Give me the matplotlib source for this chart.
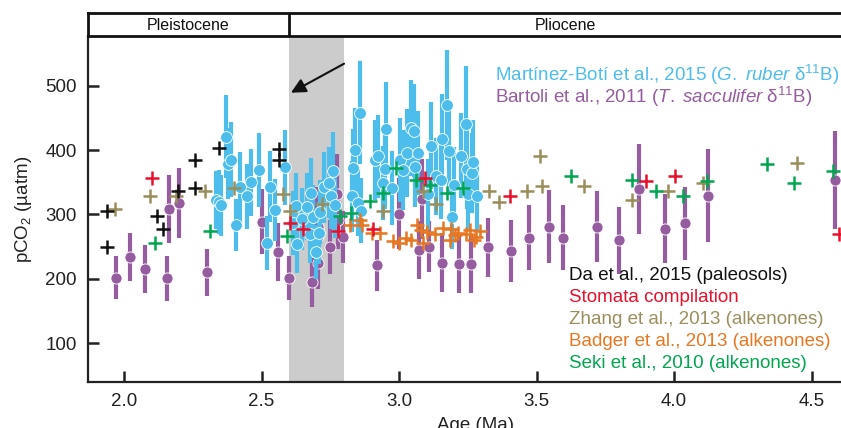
import numpy as np
import matplotlib
matplotlib.use('Agg')
import matplotlib.pyplot as plt

plt.rcParams['font.family'] = ['Liberation Sans', 'DejaVu Sans']
plt.rcParams['mathtext.fontset'] = 'custom'
plt.rcParams['mathtext.rm'] = 'Liberation Sans'
plt.rcParams['mathtext.it'] = 'Liberation Sans:italic'

# ── data ──────────────────────────────────────────────────────────────────────
# Martinez-Boti et al., 2015 (G. ruber d11B)
mb_age = [2.336, 2.345, 2.352, 2.370, 2.378, 2.388, 2.408, 2.423, 2.448, 2.463,
          2.490, 2.521, 2.532, 2.550, 2.585, 2.616, 2.625, 2.630, 2.648, 2.664,
          2.676, 2.679, 2.686, 2.698, 2.710, 2.713, 2.728, 2.747, 2.752, 2.761,
          2.767, 2.830, 2.831, 2.840, 2.850, 2.858, 2.860, 2.913, 2.925, 2.943,
          2.949, 2.952, 2.976, 3.004, 3.016, 3.028, 3.044, 3.056, 3.058, 3.068,
          3.107, 3.116, 3.133, 3.153, 3.155, 3.173, 3.182, 3.192, 3.201, 3.225,
          3.242, 3.246, 3.252, 3.264, 3.270, 3.282]
mb_co2 = [323, 319, 314, 421, 379, 385, 284, 342, 328, 350,
          369, 256, 343, 307, 373, 287, 313, 254, 293, 312,
          270, 333, 296, 242, 271, 304, 342, 349, 329, 368,
          314, 328, 372, 400, 318, 458, 306, 384, 390, 349,
          371, 433, 341, 384, 369, 395, 434, 430, 373, 395,
          331, 407, 359, 353, 417, 470, 398, 296, 346, 391,
          441, 371, 332, 364, 382, 328]
mb_err = [45, 50, 48, 65, 55, 58, 40, 55, 50, 52,
          58, 42, 55, 48, 58, 50, 52, 45, 48, 52,
          45, 55, 50, 42, 48, 50, 55, 55, 52, 60,
          50, 55, 60, 65, 52, 80, 50, 62, 65, 58,
          62, 72, 58, 65, 62, 68, 75, 72, 62, 65,
          55, 68, 60, 60, 70, 85, 68, 50, 58, 66,
          90, 62, 56, 62, 64, 55]

# Bartoli et al., 2011 (T. sacculifer d11B)
ba_age = [1.972, 2.023, 2.075, 2.157, 2.164, 2.199, 2.302, 2.503, 2.559, 2.600,
          2.685, 2.703, 2.705, 2.706, 2.707, 2.749, 2.776, 2.778, 2.795, 2.919,
          3.001, 3.073, 3.082, 3.109, 3.158, 3.219, 3.262, 3.325, 3.407, 3.474,
          3.547, 3.595, 3.719, 3.798, 3.874, 3.967, 4.040, 4.122, 4.585]
ba_co2 = [202, 234, 215, 201, 309, 318, 210, 289, 242, 201,
          195, 288, 280, 266, 224, 250, 332, 291, 265, 221,
          301, 245, 324, 250, 225, 223, 223, 249, 243, 264,
          281, 264, 281, 260, 339, 278, 286, 329, 354]
ba_err = [33, 38, 37, 35, 53, 54, 36, 50, 45, 34,
          38, 55, 50, 45, 40, 42, 62, 45, 40, 40,
          55, 45, 62, 40, 46, 45, 45, 46, 48, 50,
          57, 50, 55, 52, 70, 54, 57, 72, 76]

# Da et al., 2015 (paleosols)
da_age = [1.938, 1.938, 2.121, 2.142, 2.196, 2.257, 2.257, 2.345, 2.565, 2.565]
da_co2 = [306, 250, 297, 278, 336, 384, 341, 403, 401, 385]

# Stomata compilation
st_age = [2.103, 2.604, 2.652, 2.777, 2.907, 3.095, 3.404, 3.898, 4.004, 4.598]
st_co2 = [356, 287, 278, 275, 278, 357, 328, 352, 360, 270]

# Zhang et al., 2013 (alkenones)
zh_age = [1.968, 2.093, 2.188, 2.296, 2.399, 2.579, 2.604, 2.719, 2.943, 3.088,
          3.135, 3.327, 3.364, 3.464, 3.513, 3.521, 3.674, 3.846, 3.979, 4.107,
          4.446]
zh_co2 = [309, 328, 328, 336, 341, 332, 305, 317, 305, 337,
          317, 336, 320, 336, 391, 344, 344, 323, 336, 349,
          380]

# Badger et al., 2013 (alkenones)
bd_age = [2.820, 2.858, 2.865, 2.900, 2.930, 2.979, 2.999, 3.025, 3.045, 3.065,
          3.080, 3.088, 3.101, 3.131, 3.160, 3.185, 3.190, 3.205, 3.216, 3.245,
          3.258, 3.271, 3.280, 3.295]
bd_co2 = [283, 292, 284, 271, 271, 259, 255, 264, 261, 283,
          276, 255, 273, 270, 279, 260, 278, 268, 271, 270,
          276, 261, 265, 275]

# Seki et al., 2010 (alkenones)
sk_age = [2.112, 2.314, 2.594, 2.785, 2.826, 2.895, 2.943, 2.990, 3.063, 3.113,
          3.173, 3.231, 3.625, 3.846, 3.935, 4.031, 4.119, 4.339, 4.436, 4.579]
sk_co2 = [255, 274, 267, 297, 302, 321, 333, 372, 353, 345,
          333, 341, 360, 354, 336, 328, 352, 379, 349, 368]

EPOCHS = [('Pleistocene', 1.869, 2.6), ('Pliocene', 2.6, 4.607)]
XTICKS = [2.0, 2.5, 3.0, 3.5, 4.0, 4.5]
YTICKS = [100, 200, 300, 400, 500]

# ── colours ──────────────────────────────────────────────────────────────────
C_MB = '#4dbdec'
C_BA = '#955c9f'
C_DA = '#111111'
C_ST = '#e8102c'
C_ZH = '#9a8f5c'
C_BD = '#e87722'
C_SK = '#00a650'

# ── canvas ───────────────────────────────────────────────────────────────────
fig = plt.figure(figsize=(8.41, 4.28), dpi=100)
L, B, W, H = 0.1046, 0.1075, 0.8954, 0.8084
ax = fig.add_axes([L, B, W, H])
ax.set_xlim(1.869, 4.607)
ax.set_ylim(40, 577)

ax.axvspan(2.6, 2.8, color='#cccccc', lw=0, zorder=0)

ax.errorbar(ba_age, ba_co2, yerr=ba_err, fmt='o', color=C_BA, ecolor=C_BA,
            elinewidth=3, capsize=0, ms=8, mec='white', mew=0.6, zorder=2)
ax.errorbar(mb_age, mb_co2, yerr=mb_err, fmt='o', color=C_MB, ecolor=C_MB,
            elinewidth=3, capsize=0, ms=8.5, mec='white', mew=0.6, zorder=3)

cross = dict(ls='none', marker='+', ms=10, mew=1.8, zorder=5)
ax.plot(zh_age, zh_co2, color=C_ZH, **cross)
ax.plot(bd_age, bd_co2, color=C_BD, **cross)
ax.plot(sk_age, sk_co2, color=C_SK, **cross)
ax.plot(st_age, st_co2, color=C_ST, **cross)
ax.plot(da_age, da_co2, color=C_DA, **cross)

# arrow pointing at the grey band
ax.annotate('', xy=(2.607, 489), xytext=(2.8, 534),
            arrowprops=dict(arrowstyle='-|>', color='#111111', lw=1.5,
                            mutation_scale=22, shrinkA=0, shrinkB=0))

# ── legend as coloured text (pixel positions -> axes fraction) ──────────────
def apos(px, py):
    return (px - 88) / 753, 1 - (py - 36) / 346

fs = 13.5
ax.text(*apos(495, 75),
        r'Martínez-Botí et al., 2015 ($\mathit{G.}$ $\mathit{ruber}$ δ$^{11}$B)',
        transform=ax.transAxes, color=C_MB, fontsize=fs, va='center')
ax.text(*apos(495, 97),
        r'Bartoli et al., 2011 ($\mathit{T.}$ $\mathit{sacculifer}$ δ$^{11}$B)',
        transform=ax.transAxes, color=C_BA, fontsize=fs, va='center')
lower = [('Da et al., 2015 (paleosols)', C_DA),
         ('Stomata compilation', C_ST),
         ('Zhang et al., 2013 (alkenones)', C_ZH),
         ('Badger et al., 2013 (alkenones)', C_BD),
         ('Seki et al., 2010 (alkenones)', C_SK)]
for i, (t, c) in enumerate(lower):
    ax.text(*apos(569, 276 + 22 * i), t, transform=ax.transAxes,
            color=c, fontsize=fs, va='center')

# ── axes style ───────────────────────────────────────────────────────────────
for s in ('top', 'right'):
    ax.spines[s].set_visible(False)
for s in ('left', 'bottom'):
    ax.spines[s].set_linewidth(1.6)
    ax.spines[s].set_color('#222222')
ax.set_xticks(XTICKS)
ax.set_xticklabels([f'{v:.1f}' for v in XTICKS])
ax.set_yticks(YTICKS)
ax.tick_params(direction='in', length=8, width=1.8, labelsize=13.5,
               color='#222222', labelcolor='#222222')
ax.tick_params(axis='y', pad=8)
ax.tick_params(axis='x', pad=8)
ax.set_ylabel('pCO$_2$ (µatm)', fontsize=13.5, color='#222222', labelpad=8)
ax.set_xlabel('Age (Ma)', fontsize=13.5, color='#222222')
ax.xaxis.set_label_coords(0.515, -0.1)

# ── epoch bar ────────────────────────────────────────────────────────────────
ep = fig.add_axes([L, B + H, W, 0.0537])
ep.set_xlim(1.869, 4.607)
ep.set_ylim(0, 1)
ep.set_xticks([]); ep.set_yticks([])
for s in ('top', 'left', 'bottom'):
    ep.spines[s].set_linewidth(2)
    ep.spines[s].set_color('#111111')
ep.spines['right'].set_visible(False)
for name, a, b in EPOCHS:
    if a > 1.87:
        ep.axvline(a, color='#111111', lw=2)
    ep.text((a + b) / 2, 0.45, name, ha='center', va='center',
            fontsize=11.5, color='#111111')

fig.savefig('out.png', dpi=100)
